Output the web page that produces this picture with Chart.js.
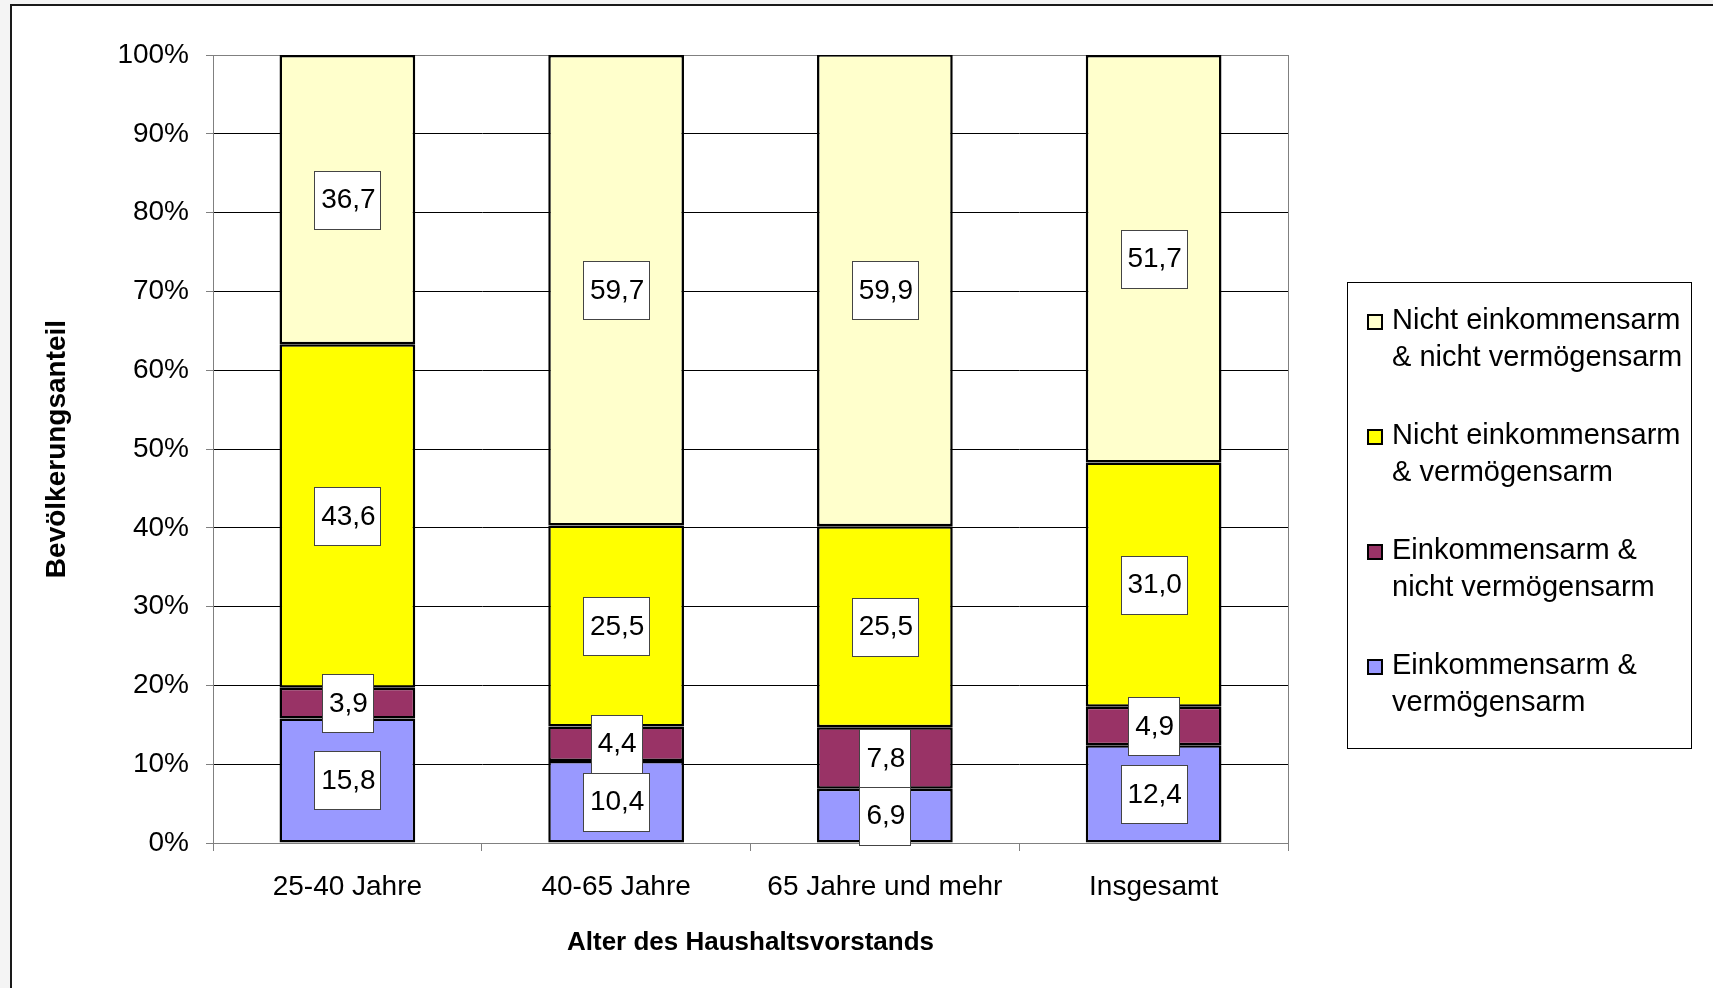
<!DOCTYPE html>
<html>
<head>
<meta charset="utf-8">
<script src="https://cdn.jsdelivr.net/npm/chart.js@4/dist/chart.umd.min.js"></script>
<style>
  html, body { margin: 0; padding: 0; background: #f4f4f4; overflow: hidden; }
  #frame { position: absolute; left: 10px; top: 4px; width: 1713px; height: 990px; background: #fff;
           border-left: 2px solid #1a1a1a; border-top: 2px solid #1a1a1a; }
  #wrap { position: absolute; left: 0; top: 0; width: 1713px; height: 988px; }
</style>
</head>
<body>
<div id="frame"></div>
<div id="wrap"><canvas id="chart"></canvas></div>
<script>
// categories (x axis)
const categories = ['25-40 Jahre', '40-65 Jahre', '65 Jahre und mehr', 'Insgesamt'];

// series, bottom to top of each stack (percent of population)
const einkVermArm = [15.8, 10.4, 6.9, 12.4];    // Einkommensarm & vermögensarm
const einkNichtVerm = [3.9, 4.4, 7.8, 4.9];     // Einkommensarm & nicht vermögensarm
const nichtEinkVerm = [43.6, 25.5, 25.5, 31.0]; // Nicht einkommensarm & vermögensarm
const nichtEinkNicht = [36.7, 59.7, 59.9, 51.7];// Nicht einkommensarm & nicht vermögensarm

// legend labels, broken the way the original legend wraps them
const seriesLabels = [
  ['Einkommensarm &', 'vermögensarm'],
  ['Einkommensarm &', 'nicht vermögensarm'],
  ['Nicht einkommensarm', '& vermögensarm'],
  ['Nicht einkommensarm', '& nicht vermögensarm']
];
const seriesColors = ['#9999FF', '#993366', '#FFFF00', '#FFFFCC'];

// y axis ticks
const yMin = 0, yMax = 100, yStep = 10;

const FONT = "'Liberation Sans', Arial, sans-serif";

const fmt = v => v.toFixed(1).replace('.', ',');

// white boxed value labels in the middle of every segment
const valueLabels = {
  id: 'valueLabels',
  afterDatasetsDraw(chart) {
    const ctx = chart.ctx;
    ctx.save();
    ctx.font = '28px ' + FONT;
    ctx.textAlign = 'center';
    ctx.textBaseline = 'middle';
    for (let i = chart.data.datasets.length - 1; i >= 0; i--) {
      const ds = chart.data.datasets[i];
      chart.getDatasetMeta(i).data.forEach((el, j) => {
        const { x, y, base } = el.getProps(['x', 'y', 'base'], true);
        const cy = (y + base) / 2;
        const text = fmt(ds.data[j]);
        const w = Math.round(ctx.measureText(text).width + 12);
        const h = 58;
        const bx = Math.round(x - w / 2) + 0.5;
        const by = Math.round(cy - h / 2) + 0.5;
        ctx.fillStyle = '#ffffff';
        ctx.fillRect(bx, by, w, h);
        ctx.strokeStyle = '#444444';
        ctx.lineWidth = 1;
        ctx.strokeRect(bx, by, w, h);
        ctx.fillStyle = '#000000';
        ctx.fillText(text, x + 1, cy + 1);
      });
    }
    ctx.restore();
  }
};

// gray frame around the plot area
const plotFrame = {
  id: 'plotFrame',
  beforeDatasetsDraw(chart) {
    const { left, top, right, bottom } = chart.chartArea;
    const ctx = chart.ctx;
    ctx.save();
    ctx.strokeStyle = '#808080';
    ctx.lineWidth = 1;
    ctx.strokeRect(Math.round(left) + 0.5, Math.round(top) + 0.5, Math.round(right - left), Math.round(bottom - top));
    ctx.restore();
  }
};

// boxed legend on the right, top series first
const boxLegend = {
  id: 'boxLegend',
  afterDraw(chart) {
    const ctx = chart.ctx;
    ctx.save();
    ctx.strokeStyle = '#000';
    ctx.lineWidth = 1;
    ctx.strokeRect(1347.5, 282.5, 344, 466);
    ctx.font = '29px ' + FONT;
    ctx.textAlign = 'left';
    ctx.textBaseline = 'middle';
    const n = chart.data.datasets.length;
    for (let k = 0; k < n; k++) {
      const ds = chart.data.datasets[n - 1 - k];
      const cy = 321 + k * 115;
      ctx.fillStyle = ds.backgroundColor;
      ctx.fillRect(1368, cy - 6, 14, 14);
      ctx.lineWidth = 2;
      ctx.strokeStyle = '#000';
      ctx.strokeRect(1368, cy - 6, 14, 14);
      ctx.fillStyle = '#000';
      seriesLabels[n - 1 - k].forEach((line, j) => ctx.fillText(line, 1392, cy + j * 37));
    }
    ctx.restore();
  }
};

const seriesData = [einkVermArm, einkNichtVerm, nichtEinkVerm, nichtEinkNicht];

new Chart(document.getElementById('chart'), {
  type: 'bar',
  data: {
    labels: categories,
    datasets: seriesData.map((d, i) => ({
      label: seriesLabels[i].join(' '),
      data: d,
      backgroundColor: seriesColors[i],
      borderColor: '#000000',
      borderWidth: 2.5,
      borderSkipped: false,
      categoryPercentage: 1,
      barPercentage: 0.505
    }))
  },
  options: {
    responsive: true,
    maintainAspectRatio: false,
    animation: false,
    events: [],
    layout: { padding: { left: 0, right: 425, top: 55, bottom: 0 } },
    plugins: {
      legend: { display: false },
      tooltip: { enabled: false }
    },
    scales: {
      x: {
        stacked: true,
        afterFit: s => { s.height = 145; },
        grid: { drawOnChartArea: false, drawTicks: true, tickLength: 8, tickColor: '#808080', lineWidth: 1 },
        border: { color: '#808080', width: 1 },
        ticks: { color: '#000', font: { family: FONT, size: 28 }, padding: 19, maxRotation: 0 },
        title: {
          display: true,
          text: 'Alter des Haushaltsvorstands',
          color: '#000',
          font: { family: FONT, size: 26, weight: 'bold' },
          padding: { top: 0, bottom: 30 }
        }
      },
      y: {
        stacked: true,
        min: yMin,
        max: yMax,
        afterFit: s => { s.width = 213; },
        grid: { color: '#000000', lineWidth: 1, tickLength: 7, tickColor: '#808080' },
        border: { color: '#808080', width: 1 },
        ticks: {
          stepSize: yStep,
          color: '#000',
          font: { family: FONT, size: 28 },
          padding: 17,
          callback: v => v + '%'
        },
        title: {
          display: true,
          text: 'Bevölkerungsanteil',
          color: '#000',
          font: { family: FONT, size: 28, weight: 'bold' },
          padding: { top: 40, bottom: 0 }
        }
      }
    }
  },
  plugins: [plotFrame, valueLabels, boxLegend]
});
</script>
</body>
</html>
